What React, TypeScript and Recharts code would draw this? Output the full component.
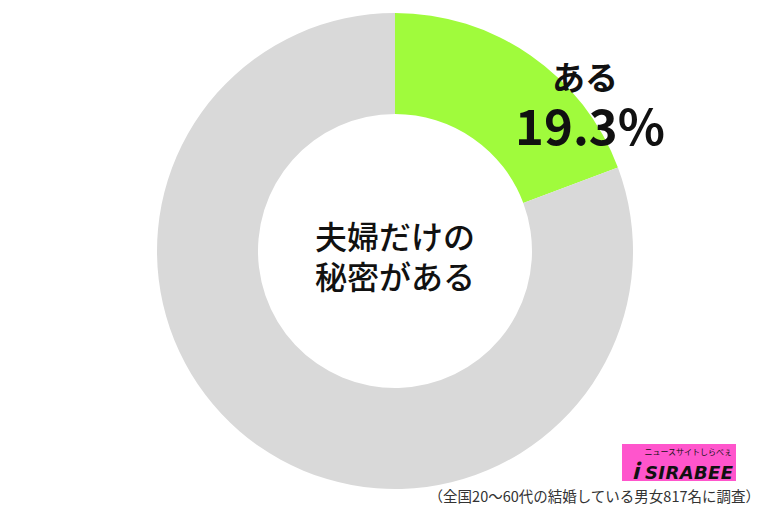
import React from "react";
import { PieChart, Pie, Cell } from "recharts";

const categories = ["ある", "ない"];
const values = [19.3, 80.7];
const colors = ["#a0fb3c", "#d9d9d9"];
const centerLines = ["夫婦だけの", "秘密がある"];
const note = "（全国20〜60代の結婚している男女817名に調査）";

const data = categories.map((name, i) => ({ name, value: values[i] }));

const FONT = "'Noto Sans CJK JP', 'Noto Sans', sans-serif";

const renderLabel = (props: any) => {
  const { cx, cy, index, name, value } = props;
  if (index !== 0) return null;
  return (
    <g>
      <text x={cx + 190} y={cy - 161} textAnchor="middle" fontFamily={FONT} fontWeight={700} fontSize={33} fill="#111">
        {name}
      </text>
      <text x={cx + 195} y={cy - 106} textAnchor="middle" fontFamily={FONT} fontWeight={700} fontSize={49} fill="#111">
        {value}%
      </text>
    </g>
  );
};

export default function App() {
  return (
    <div style={{ position: "absolute", left: 0, top: 0, width: 768, height: 511, background: "#fff" }}>
      <PieChart width={768} height={511} margin={{ top: 0, right: 0, bottom: 0, left: 0 }}>
        <Pie
          data={data}
          dataKey="value"
          nameKey="name"
          cx={395}
          cy={251}
          innerRadius={137}
          outerRadius={238}
          startAngle={90}
          endAngle={-270}
          stroke="none"
          label={renderLabel}
          labelLine={false}
          isAnimationActive={false}
        >
          {data.map((d, i) => (
            <Cell key={d.name} fill={colors[i]} />
          ))}
        </Pie>
      </PieChart>
      <svg width={768} height={511} style={{ position: "absolute", left: 0, top: 0, pointerEvents: "none" }}>
        {centerLines.map((t, i) => (
          <text key={t} x={395} y={249 + i * 40} textAnchor="middle" fontFamily={FONT} fontWeight={500} fontSize={32} fill="#111">
            {t}
          </text>
        ))}
        <rect x={622} y={444} width={114} height={37} fill="#ff55cc" />
        <text x={732} y={455} textAnchor="end" fontFamily={FONT} fontSize={8} fill="#111">ニュースサイトしらべぇ</text>
        <text x={632} y={479} fontFamily={FONT} fontWeight={900} fontSize={21} fill="#111" fontStyle="italic">i</text>
        <text x={733} y={479} textAnchor="end" fontFamily="'DejaVu Sans', sans-serif" fontWeight={700} fontStyle="italic" fontSize={18} fill="#111" textLength={88}>SIRABEE</text>
        <text x={760} y={502} textAnchor="end" fontFamily={FONT} fontSize={14.5} fill="#333">{note}</text>
      </svg>
    </div>
  );
}
